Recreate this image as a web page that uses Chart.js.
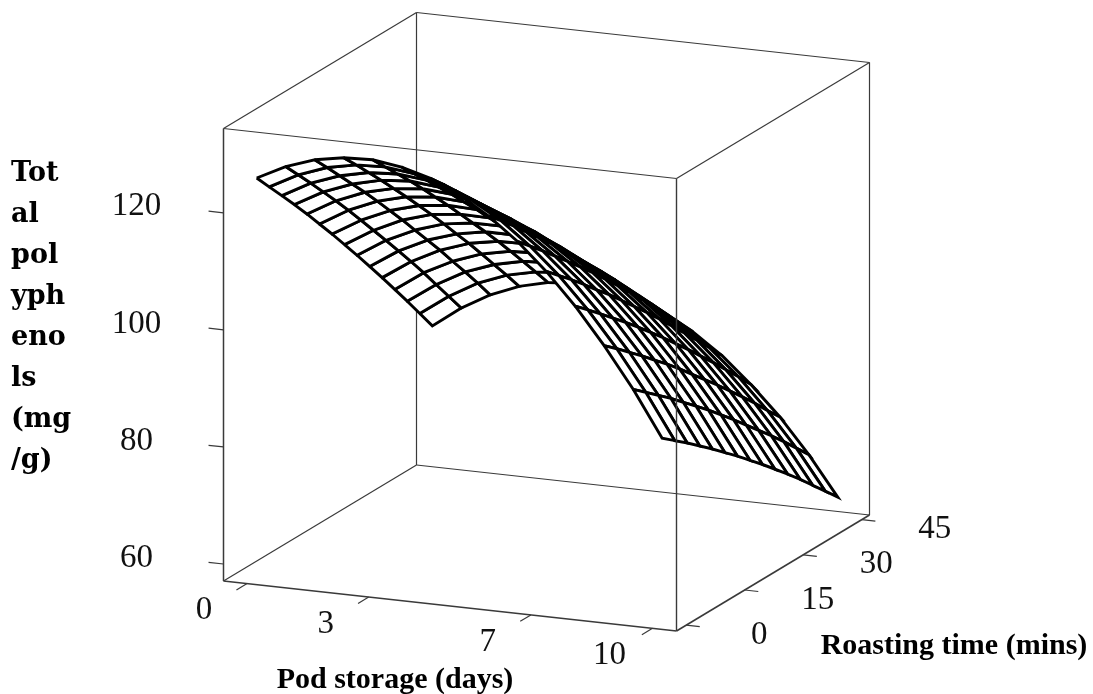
<!DOCTYPE html>
<html>
<head>
<meta charset="utf-8">
<title>Total polyphenols surface</title>
<script src="https://cdn.jsdelivr.net/npm/chart.js@4/dist/chart.umd.min.js"></script>
<style>
    html, body { margin: 0; padding: 0; background: #fff; }
    canvas { display: block; }
</style>
</head>
<body>
<canvas id="surface-chart" width="1093" height="694"></canvas>
<script>
// 网格坐标
const podGrid = [0, 0.714, 1.429, 2.143, 2.857, 3.571, 4.286, 5, 5.714, 6.429, 7.143, 7.857, 8.571, 9.286, 10];
const roastGrid = [0, 3.21, 6.43, 9.64, 12.86, 16.07, 19.29, 22.5, 25.71, 28.93, 32.14, 35.36, 38.57, 41.79, 45];

// 总多酚含量,每行一个烘烤时间,每列一个储存天数
const roast00 = [125.4, 127.9, 129.6, 130.5, 130.7, 130.0, 128.6, 126.3, 123.3, 119.5, 114.9, 109.5, 103.3, 96.4, 88.6];
const roast01 = [122.6, 125.2, 127.0, 128.0, 128.2, 127.6, 126.3, 124.1, 121.2, 117.4, 112.9, 107.6, 101.5, 94.6, 86.9];
const roast02 = [119.8, 122.5, 124.3, 125.4, 125.7, 125.2, 123.9, 121.8, 119.0, 115.3, 110.9, 105.6, 99.6, 92.8, 85.2];
const roast03 = [117.0, 119.7, 121.6, 122.8, 123.2, 122.7, 121.5, 119.5, 116.7, 113.1, 108.8, 103.6, 97.7, 91.0, 83.4];
const roast04 = [114.1, 116.9, 118.9, 120.1, 120.6, 120.2, 119.1, 117.2, 114.4, 110.9, 106.6, 101.6, 95.7, 89.0, 81.6];
const roast05 = [111.1, 114.0, 116.1, 117.4, 117.9, 117.6, 116.6, 114.7, 112.1, 108.7, 104.5, 99.5, 93.7, 87.1, 79.7];
const roast06 = [108.1, 111.0, 113.2, 114.6, 115.2, 115.0, 114.0, 112.3, 109.7, 106.4, 102.2, 97.3, 91.6, 85.1, 77.8];
const roast07 = [105.0, 108.0, 110.3, 111.8, 112.4, 112.3, 111.4, 109.7, 107.2, 104.0, 99.9, 95.1, 89.4, 83.0, 75.8];
const roast08 = [101.9, 105.0, 107.3, 108.9, 109.6, 109.6, 108.8, 107.2, 104.7, 101.6, 97.6, 92.8, 87.2, 80.9, 73.8];
const roast09 = [98.7, 101.9, 104.3, 105.9, 106.8, 106.8, 106.1, 104.5, 102.2, 99.1, 95.2, 90.5, 85.0, 78.7, 71.7];
const roast10 = [95.5, 98.8, 101.3, 103.0, 103.9, 104.0, 103.3, 101.9, 99.6, 96.6, 92.7, 88.1, 82.7, 76.5, 69.6];
const roast11 = [92.2, 95.6, 98.1, 99.9, 100.9, 101.1, 100.5, 99.1, 96.9, 94.0, 90.2, 85.7, 80.4, 74.3, 67.4];
const roast12 = [88.9, 92.3, 95.0, 96.8, 97.9, 98.2, 97.6, 96.3, 94.2, 91.4, 87.7, 83.2, 78.0, 72.0, 65.1];
const roast13 = [85.5, 89.0, 91.8, 93.7, 94.8, 95.2, 94.7, 93.5, 91.5, 88.7, 85.1, 80.7, 75.5, 69.6, 62.8];
const roast14 = [82.1, 85.7, 88.5, 90.5, 91.7, 92.1, 91.8, 90.6, 88.7, 86.0, 82.5, 78.1, 73.1, 67.2, 60.5];
const surfaceRows = [roast00, roast01, roast02, roast03, roast04, roast05, roast06, roast07,
    roast08, roast09, roast10, roast11, roast12, roast13, roast14];

// 刻度
const podTicks = [0, 3, 7, 10];
const roastTicks = [0, 15, 30, 45];
const valueTicks = [60, 80, 100, 120];

// 轴标题
const podTitle = 'Pod storage (days)';
const roastTitle = 'Roasting time (mins)';
const valueTitleLines = ['Tot', 'al', 'pol', 'yph', 'eno', 'ls', '(mg', '/g)'];

// 投影:箱体比例坐标 -> 画布坐标
const toScreen = (fp, fr, fz) => ({
    x: 223.5 + 453 * fp + 193 * fr,
    y: 581 + 50 * fp - 116 * fr - 452.5 * fz
});
const podFrac = (pod) => 0.052 + 0.0895 * pod;
const roastFrac = (roast) => 0.05 + 0.91 * roast / 45;
const valueFrac = (value) => (value - 57.1) / 77.3;

const lineSet = (points, color, width) => ({
    data: points,
    showLine: true,
    borderColor: color,
    borderWidth: width,
    pointRadius: 0,
    tension: 0,
    fill: false
});

// 画箱体线段,[起点, 终点] 都是比例坐标
const boxLine = (a, b, width) => lineSet([toScreen(...a), toScreen(...b)], '#3a3a3a', width || 1.2);

const datasets = [];

// 被曲面遮住的后方棱线
datasets.push(boxLine([0, 1, 0], [0, 1, 1]));
datasets.push(boxLine([0, 0, 0], [0, 1, 0]));
datasets.push(boxLine([0, 1, 0], [1, 1, 0]));
datasets.push(boxLine([0, 0, 1], [0, 1, 1]));
datasets.push(boxLine([0, 1, 1], [1, 1, 1]));
datasets.push(boxLine([1, 1, 0], [1, 1, 1]));

// 曲面,从远到近逐格绘制,白色填充遮挡后面的线
for (let r = surfaceRows.length - 2; r >= 0; r--) {
    for (let p = 0; p < podGrid.length - 1; p++) {
        const corners = [[p, r], [p + 1, r], [p + 1, r + 1], [p, r + 1], [p, r]];
        const cell = corners.map(([i, j]) =>
            toScreen(podFrac(podGrid[i]), roastFrac(roastGrid[j]), valueFrac(surfaceRows[j][i])));
        const ds = lineSet(cell, '#000', 2.9);
        ds.fill = 'shape';
        ds.backgroundColor = '#fff';
        ds.borderJoinStyle = 'miter';
        datasets.push(ds);
    }
}

// 前方棱线
datasets.push(boxLine([0, 0, 0], [0, 0, 1], 1.5));
datasets.push(boxLine([1, 0, 0], [1, 0, 1], 1.4));
datasets.push(boxLine([0, 0, 1], [1, 0, 1]));
datasets.push(boxLine([1, 0, 1], [1, 1, 1]));
datasets.push(boxLine([0, 0, 0], [1, 0, 0], 1.6));
datasets.push(boxLine([1, 0, 0], [1, 1, 0], 1.6));

// 刻度线
podTicks.forEach(t => datasets.push(boxLine([podFrac(t), 0, 0], [podFrac(t), -0.055, 0])));
roastTicks.forEach(t => datasets.push(boxLine([1, roastFrac(t), 0], [1.03, roastFrac(t), 0])));
valueTicks.forEach(t => datasets.push(boxLine([0, 0, valueFrac(t)], [-0.033, 0, valueFrac(t)])));

// 后加入的数据集画在上面
datasets.forEach((ds, i) => { ds.order = datasets.length - i; });

// 刻度文字和轴标题
const textPlugin = {
    id: 'axisText',
    afterDraw: (chart) => {
        const { ctx, scales } = chart;
        const put = (text, x, y, font) => {
            ctx.font = font;
            ctx.fillText(text, scales.x.getPixelForValue(x), scales.y.getPixelForValue(y));
        };
        ctx.save();
        ctx.fillStyle = '#111';
        ctx.textBaseline = 'middle';
        ctx.textAlign = 'center';

        const tickFont = '33px "Liberation Serif"';
        podTicks.forEach(t => {
            const pt = toScreen(podFrac(t), 0, 0);
            put(String(t), pt.x - 43, pt.y + 27, tickFont);
        });
        roastTicks.forEach(t => {
            const pt = toScreen(1, roastFrac(t), 0);
            put(String(t), pt.x + 73, pt.y + 10, tickFont);
        });
        valueTicks.forEach(t => {
            const pt = toScreen(0, 0, valueFrac(t));
            put(String(t), pt.x - 87, pt.y - 6, tickFont);
        });

        const titleFont = 'bold 30px "Liberation Serif"';
        ctx.fillStyle = '#000';
        put(podTitle, 395, 680, titleFont);
        put(roastTitle, 954, 646, titleFont);

        ctx.textAlign = 'left';
        valueTitleLines.forEach((line, i) => {
            put(line, 11, 174 + i * 41, 'bold 27px "DejaVu Serif"');
        });
        ctx.restore();
    }
};

new Chart(document.getElementById('surface-chart').getContext('2d'), {
    type: 'scatter',
    data: { datasets },
    options: {
        responsive: false,
        animation: false,
        devicePixelRatio: 1,
        layout: { padding: 0 },
        plugins: {
            legend: { display: false },
            tooltip: { enabled: false }
        },
        scales: {
            x: { type: 'linear', display: false, min: 0, max: 1093 },
            y: { type: 'linear', display: false, min: 0, max: 694, reverse: true }
        }
    },
    plugins: [textPlugin]
});
</script>
</body>
</html>
